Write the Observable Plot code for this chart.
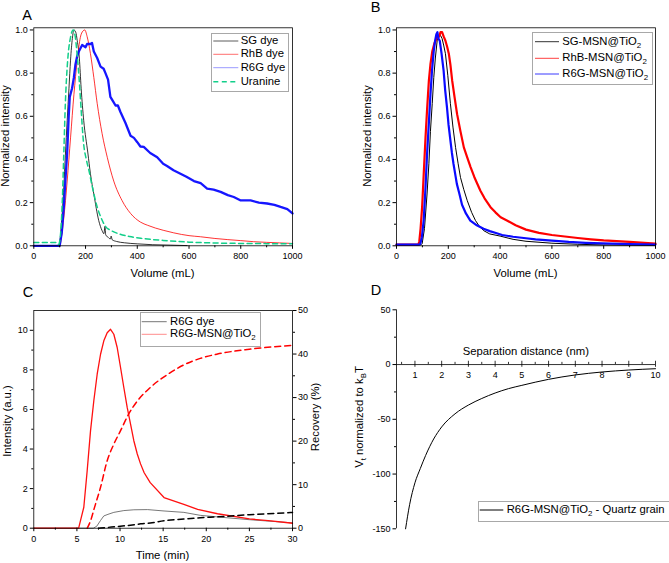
<!DOCTYPE html>
<html><head><meta charset="utf-8">
<script src="https://cdn.jsdelivr.net/npm/d3@7"></script>
<script src="https://cdn.jsdelivr.net/npm/@observablehq/plot@0.6"></script>
<style>
body{margin:0;background:#fff;}
#root{position:relative;width:669px;height:563px;overflow:hidden;font-family:"Liberation Sans",Arial,sans-serif;color:#000;background:#fff;}
.abs{position:absolute;white-space:nowrap;line-height:1;}
.panel{position:absolute;}
sub{font-size:0.7em;vertical-align:-0.3em;line-height:0;}
.box{position:absolute;border:1px solid #a8a8a8;background:#fff;}
</style></head>
<body><div id="root"></div>
<script>
// ---------- Panel A data (Volume mL vs normalized intensity) ----------
const aSGx = [0, 97, 108, 116, 122, 129, 136, 142, 149, 155, 162, 168, 176, 183, 193, 209, 219, 232, 251, 264, 271, 275, 278, 285, 296, 299, 303, 320, 350, 400, 460, 530, 593];
const aSGy = [0, 0, 0.12, 0.27, 0.42, 0.58, 0.73, 0.86, 0.96, 1.0, 0.99, 0.95, 0.87, 0.73, 0.58, 0.43, 0.333, 0.24, 0.117, 0.07, 0.056, 0.09, 0.05, 0.042, 0.032, 0.045, 0.028, 0.02, 0.014, 0.009, 0.005, 0.003, 0.001];
const aRhBx = [0, 100, 108, 116, 129, 142, 155, 168, 180, 190, 197, 206, 219, 232, 245, 264, 284, 309, 341, 374, 412, 440, 500, 541, 600, 644, 700, 800, 850, 900, 1000];
const aRhBy = [0, 0, 0.05, 0.13, 0.30, 0.50, 0.70, 0.86, 0.966, 0.995, 1.0, 0.97, 0.89, 0.78, 0.66, 0.52, 0.41, 0.30, 0.21, 0.15, 0.11, 0.095, 0.072, 0.06, 0.047, 0.042, 0.034, 0.024, 0.019, 0.016, 0.011];
const aR6Gx = [0, 100, 108, 116, 122, 129, 135, 139, 148, 155, 161, 168, 174, 187, 200, 206, 219, 225, 232, 245, 258, 270, 277, 287, 296, 306, 316, 325, 335, 354, 374, 387, 400, 412, 425, 450, 477, 500, 515, 540, 567, 590, 619, 645, 670, 695, 722, 750, 773, 800, 838, 870, 902, 930, 954, 980, 1000];
const aR6Gy = [0, 0, 0.06, 0.18, 0.3, 0.43, 0.6, 0.69, 0.73, 0.78, 0.84, 0.88, 0.90, 0.93, 0.92, 0.935, 0.935, 0.94, 0.90, 0.87, 0.83, 0.82, 0.80, 0.77, 0.69, 0.67, 0.65, 0.65, 0.62, 0.57, 0.51, 0.50, 0.48, 0.46, 0.458, 0.43, 0.41, 0.38, 0.37, 0.35, 0.334, 0.32, 0.30, 0.29, 0.265, 0.26, 0.25, 0.235, 0.226, 0.21, 0.21, 0.20, 0.196, 0.19, 0.18, 0.17, 0.15];
const aUrax = [0, 88, 95, 100, 105, 110, 116, 122, 131, 142, 152, 160, 168, 176, 183, 192, 203, 213, 225, 245, 260, 277, 300, 330, 370, 420, 500, 600, 700, 800, 900, 1000];
const aUray = [0.015, 0.015, 0.005, 0.02, 0.08, 0.2, 0.43, 0.66, 0.86, 0.966, 1.0, 0.97, 0.88, 0.76, 0.63, 0.48, 0.4, 0.35, 0.28, 0.18, 0.13, 0.09, 0.07, 0.055, 0.043, 0.034, 0.025, 0.017, 0.013, 0.011, 0.01, 0.009];

// ---------- Panel B data ----------
const bSGx = [0, 95, 99, 108, 118, 125, 131, 138, 144, 150, 157, 163, 170, 176, 182, 189, 198, 208, 218, 228, 238, 247, 260, 273, 290, 305, 320, 337, 360, 400, 450, 500, 600, 700, 800, 900, 1000];
const bSGy = [0.005, 0.005, 0.01, 0.08, 0.24, 0.38, 0.53, 0.66, 0.78, 0.87, 0.95, 0.97, 0.975, 0.96, 0.93, 0.89, 0.79, 0.66, 0.55, 0.456, 0.38, 0.317, 0.26, 0.21, 0.155, 0.117, 0.09, 0.07, 0.055, 0.045, 0.03, 0.021, 0.012, 0.007, 0.004, 0.003, 0.002];
const bRhBx = [0, 84, 88, 93, 99, 105, 112, 118, 125, 131, 138, 147, 157, 165, 170, 176, 182, 189, 196, 202, 208, 215, 224, 234, 247, 260, 273, 286, 300, 311, 324, 340, 363, 382, 402, 430, 460, 500, 550, 600, 650, 700, 750, 800, 900, 1000];
const bRhBy = [0.005, 0.005, 0.02, 0.08, 0.18, 0.33, 0.50, 0.63, 0.765, 0.84, 0.90, 0.94, 0.965, 0.97, 0.99, 0.99, 0.97, 0.95, 0.92, 0.89, 0.84, 0.765, 0.69, 0.61, 0.53, 0.456, 0.41, 0.365, 0.32, 0.29, 0.255, 0.22, 0.179, 0.155, 0.132, 0.115, 0.095, 0.075, 0.06, 0.05, 0.043, 0.036, 0.03, 0.025, 0.018, 0.01];
const bR6Gx = [0, 88, 92, 98, 105, 112, 118, 125, 131, 137, 143.5, 149, 154, 158, 162, 167, 174, 182, 188, 195, 201, 208, 214, 220, 227, 233, 243, 253, 268, 285, 310, 336, 360, 387, 408, 450, 500, 537, 600, 665, 730, 794, 900, 1000];
const bR6Gy = [0.005, 0.005, 0.01, 0.04, 0.118, 0.27, 0.425, 0.57, 0.70, 0.81, 0.90, 0.95, 0.98, 0.99, 0.96, 0.95, 0.89, 0.81, 0.72, 0.64, 0.56, 0.49, 0.43, 0.38, 0.33, 0.287, 0.24, 0.19, 0.15, 0.117, 0.095, 0.079, 0.068, 0.058, 0.05, 0.042, 0.035, 0.03, 0.024, 0.018, 0.014, 0.011, 0.008, 0.006];

// ---------- Panel C data (time min) ----------
const cMSNt = [0, 5.2, 5.8, 6.19, 6.58, 6.96, 7.35, 7.74, 8.12, 8.51, 8.9, 9.28, 9.67, 10.06, 10.44, 10.83, 11.22, 11.6, 12.0, 12.38, 12.8, 13.5, 15.1, 17.4, 19.0, 21.3, 25.0, 27.5, 30];
const cMSNi = [0, 0, 1.06, 2.9, 4.93, 6.44, 7.78, 8.79, 9.47, 9.88, 10.05, 9.8, 9.13, 8.12, 7.11, 6.1, 5.26, 4.42, 3.75, 3.25, 2.8, 2.3, 1.55, 1.2, 0.95, 0.73, 0.47, 0.37, 0.25];
const cDyet = [0, 6.9, 7.3, 7.74, 8.12, 8.6, 9.28, 10.44, 11.6, 13.2, 15.1, 17.4, 19.3, 21.3, 25, 30];
const cDyei = [0, 0, 0.1, 0.39, 0.62, 0.7, 0.8, 0.89, 0.93, 0.94, 0.87, 0.8, 0.65, 0.57, 0.43, 0.27];
const cMSNrt = [6.2, 6.6, 7.0, 7.74, 8.51, 9.28, 10.06, 11.0, 12.0, 13.5, 15.5, 17.4, 19.3, 21.3, 25, 30];
const cMSNr = [0, 1.8, 4.5, 9.4, 15.5, 19.3, 22.4, 26.2, 29.2, 32.3, 35.3, 37.5, 39, 40, 41.1, 42];
const cDyert = [7.5, 9.0, 11.2, 12.4, 13.5, 15.1, 17.4, 19.3, 21.3, 25, 30];
const cDyer = [0, 0.25, 0.7, 1.0, 1.2, 1.7, 2.1, 2.4, 2.6, 3.1, 3.6];

// ---------- Panel D data (separation nm vs Vt/kBT) ----------
const dX = [0.65, 0.8, 1.0, 1.2, 1.4, 1.7, 2.0, 2.5, 3.0, 3.5, 4.0, 4.5, 5, 6, 7, 8, 9, 10];
const dY = [-150, -128, -108, -95, -83, -68, -57, -45, -37, -31, -26, -22, -19, -13.5, -9.5, -6.8, -5.0, -3.8];

// ---------- tick values ----------
const volTicks = [0, 200, 400, 600, 800, 1000];
const volMinor = [100, 300, 500, 700, 900];
const normTicks = [0, 0.2, 0.4, 0.6, 0.8, 1.0];
const normMinor = [0.1, 0.3, 0.5, 0.7, 0.9];
const timeTicks = [0, 5, 10, 15, 20, 25, 30];
const timeMinor = [2.5, 7.5, 12.5, 17.5, 22.5, 27.5];
const intTicks = [0, 2, 4, 6, 8, 10];
const intMinor = [1, 3, 5, 7, 9];
const recTicks = [0, 10, 20, 30, 40, 50];
const recMinor = [5, 15, 25, 35, 45];
const sepTicks = [1, 2, 3, 4, 5, 6, 7, 8, 9, 10];
const sepMinor = [0.5, 1.5, 2.5, 3.5, 4.5, 5.5, 6.5, 7.5, 8.5, 9.5];
const vTicks = [-150, -100, -50, 0, 50];
const vMinor = [-125, -75, -25, 25];

const pts = (xs, ys, f = (v) => v) => xs.map((x, i) => ({x, y: f(ys[i])}));
const root = document.getElementById("root");
const FONT = '"Liberation Sans", Arial, sans-serif';
const style = {fontFamily: FONT, fontSize: "9px", color: "#000", background: "transparent", overflow: "visible"};
const S = (d) => String(d);

function place(el, left, top) {
  el.classList.add("panel");
  el.style.left = left + "px"; el.style.top = top + "px";
  root.appendChild(el);
}
function txt(html, x, y, size, opts = {}) {
  const d = document.createElement("div");
  d.className = "abs";
  d.innerHTML = html;
  d.style.fontSize = size + "px";
  d.style.left = x + "px"; d.style.top = y + "px";
  const tx = opts.anchor === "start" ? "0" : "-50%";
  d.style.transform = `translate(${tx},-50%)`;
  root.appendChild(d);
  return d;
}
function rotTxt(html, cx, cy, size) {
  const d = document.createElement("div");
  d.className = "abs";
  d.innerHTML = html;
  d.style.fontSize = size + "px";
  d.style.left = cx + "px"; d.style.top = cy + "px";
  d.style.transform = "translate(-50%,-50%) rotate(-90deg)";
  root.appendChild(d);
}
function box(x0, y0, x1, y1) {
  const b = document.createElement("div");
  b.className = "box";
  b.style.left = x0 + "px"; b.style.top = y0 + "px";
  b.style.width = (x1 - x0) + "px"; b.style.height = (y1 - y0) + "px";
  root.appendChild(b);
}

const ax = {stroke: "#000", strokeWidth: 0.8};

// ---------- Panel A ----------
const pA = Plot.plot({
  width: 335, height: 290, marginLeft: 33.3, marginRight: 43, marginTop: 27.3, marginBottom: 44.7,
  x: {domain: [0, 1000]}, y: {domain: [0, 1.01]}, style,
  marks: [
    Plot.line(pts(aSGx, aSGy), {x: "x", y: "y", stroke: "#000", strokeWidth: 0.8, curve: "monotone-x"}),
    Plot.line(pts(aRhBx, aRhBy), {x: "x", y: "y", stroke: "#ff0000", strokeWidth: 0.8, curve: "monotone-x"}),
    Plot.line(pts(aR6Gx, aR6Gy), {x: "x", y: "y", stroke: "#0a0aff", strokeWidth: 2.3, strokeOpacity: 0.95}),
    Plot.line(pts(aUrax, aUray), {x: "x", y: "y", stroke: "#12cf8a", strokeWidth: 1.5, strokeDasharray: "5,3.5", curve: "monotone-x"}),
    Plot.frame(ax),
    Plot.axisX({ticks: volTicks, tickSize: 3.5, tickPadding: 3.5, label: null, tickFormat: S}),
    Plot.axisX({ticks: volMinor, tickSize: 2, label: null, tickFormat: () => ""}),
    Plot.axisY({ticks: normTicks, tickSize: 3.5, tickPadding: 2.5, label: null, tickFormat: d3.format(".1f")}),
    Plot.axisY({ticks: normMinor, tickSize: 2, label: null, tickFormat: () => ""})
  ]
});
place(pA, 0, 0);

// ---------- Panel B ----------
const pB = Plot.plot({
  width: 334, height: 290, marginLeft: 61, marginRight: 14, marginTop: 27.3, marginBottom: 44.7,
  x: {domain: [0, 1000]}, y: {domain: [0, 1.01]}, style,
  marks: [
    Plot.line(pts(bSGx, bSGy), {x: "x", y: "y", stroke: "#000", strokeWidth: 1}),
    Plot.line(pts(bRhBx, bRhBy), {x: "x", y: "y", stroke: "#ff0000", strokeWidth: 2.2}),
    Plot.line(pts(bR6Gx, bR6Gy), {x: "x", y: "y", stroke: "#0a0aff", strokeWidth: 2.2}),
    Plot.frame(ax),
    Plot.axisX({ticks: volTicks, tickSize: 3.5, tickPadding: 3.5, label: null, tickFormat: S}),
    Plot.axisX({ticks: volMinor, tickSize: 2, label: null, tickFormat: () => ""}),
    Plot.axisY({ticks: normTicks, tickSize: 3.5, tickPadding: 2.5, label: null, tickFormat: d3.format(".1f")}),
    Plot.axisY({ticks: normMinor, tickSize: 2, label: null, tickFormat: () => ""})
  ]
});
place(pB, 335, 0);

// ---------- Panel C (right axis: recovery %, 50 % = 11 a.u.) ----------
const rec = (r) => r * 11 / 50;
const pC = Plot.plot({
  width: 335, height: 283, marginLeft: 33.3, marginRight: 43, marginTop: 30, marginBottom: 35.3,
  x: {domain: [0, 30]}, y: {domain: [0, 11]}, style,
  marks: [
    Plot.line(pts(cDyet, cDyei), {x: "x", y: "y", stroke: "#555", strokeWidth: 0.8}),
    Plot.line(pts(cMSNt, cMSNi), {x: "x", y: "y", stroke: "#ff1010", strokeWidth: 1.3}),
    Plot.line(pts(cMSNrt, cMSNr, rec), {x: "x", y: "y", stroke: "#ff0000", strokeWidth: 1.5, strokeDasharray: "6,4", curve: "monotone-x"}),
    Plot.line(pts(cDyert, cDyer, rec), {x: "x", y: "y", stroke: "#000", strokeWidth: 1.5, strokeDasharray: "6,4", curve: "monotone-x"}),
    Plot.frame(ax),
    Plot.axisX({ticks: timeTicks, tickSize: 3.5, tickPadding: 3.5, label: null, tickFormat: S}),
    Plot.axisX({ticks: timeMinor, tickSize: 2, label: null, tickFormat: () => ""}),
    Plot.axisY({ticks: intTicks, tickSize: 3.5, tickPadding: 2.5, label: null, tickFormat: S}),
    Plot.axisY({ticks: intMinor, tickSize: 2, label: null, tickFormat: () => ""}),
    Plot.axisY({anchor: "right", ticks: recTicks.map(rec), tickSize: 3.5, tickPadding: 2, label: null, tickFormat: (d) => String(Math.round(d * 50 / 11))}),
    Plot.axisY({anchor: "right", ticks: recMinor.map(rec), tickSize: 2, label: null, tickFormat: () => ""})
  ]
});
place(pC, 0, 280);

// ---------- Panel D ----------
const dMin = 0.31;
const pD = Plot.plot({
  width: 334, height: 283, marginLeft: 61, marginRight: 14, marginTop: 29.3, marginBottom: 34.7,
  x: {domain: [dMin, 10], axis: null}, y: {domain: [-150, 50]}, style,
  marks: [
    Plot.ruleX([dMin], {y1: -150, y2: 50, ...ax}),
    Plot.ruleY([0], {x1: dMin, x2: 10, ...ax}),
    Plot.ruleX(sepTicks, {y1: -2.5, y2: 3, ...ax}),
    Plot.ruleX(sepMinor, {y1: 0, y2: 2, ...ax}),
    Plot.text(sepTicks, {x: (d) => d, y: -10, text: S, fontSize: 9, fill: "#000"}),
    Plot.axisY({ticks: vTicks, tickSize: 3.5, tickPadding: 2.5, label: null, tickFormat: S}),
    Plot.axisY({ticks: vMinor, tickSize: 2, label: null, tickFormat: () => ""}),
    Plot.line(pts(dX, dY), {x: "x", y: "y", stroke: "#000", strokeWidth: 1, curve: "monotone-x"})
  ]
});
place(pD, 335, 280);

// ---------- panel letters ----------
txt("A", 27, 15, 14.5);
txt("B", 375.5, 7, 14.5);
txt("C", 28, 292, 14.5);
txt("D", 376, 290, 14.5);

// ---------- axis titles ----------
txt("Volume (mL)", 162.5, 274, 11.3);
rotTxt("Normalized intensity", 6, 136, 11.3);
txt("Volume (mL)", 525.5, 274, 11.3);
rotTxt("Normalized intensity", 368, 136, 11.3);
txt("Time (min)", 162.5, 556, 11.3);
rotTxt("Intensity (a.u.)", 7.5, 421, 11.3);
rotTxt("Recovery (%)", 316, 417, 11.3);
txt("Separation distance (nm)", 525.8, 352.3, 11.3);
rotTxt("V<sub>t</sub> normalized to k<sub>B</sub>T", 360, 417, 11.3);

// ---------- legends ----------
const lg = document.createElementNS("http://www.w3.org/2000/svg", "svg");
lg.setAttribute("width", 669); lg.setAttribute("height", 563);
lg.style.position = "absolute"; lg.style.left = "0"; lg.style.top = "0"; lg.style.pointerEvents = "none";
function lgLine(x0, x1, y, color, w, dash) {
  const l = document.createElementNS("http://www.w3.org/2000/svg", "line");
  l.setAttribute("x1", x0); l.setAttribute("x2", x1); l.setAttribute("y1", y); l.setAttribute("y2", y);
  l.setAttribute("stroke", color); l.setAttribute("stroke-width", w);
  if (dash) l.setAttribute("stroke-dasharray", dash);
  lg.appendChild(l);
}
// A
box(211, 33.3, 287.3, 90);
[["SG dye", 41, "#333", 0.8, null], ["RhB dye", 54.3, "#ff4a4a", 0.8, null], ["R6G dye", 67.7, "#9a9aff", 1, null], ["Uranine", 81.7, "#12cf8a", 1.5, "5,3.5"]]
  .forEach(([t, y, c, w, d]) => { lgLine(213.3, 238.3, y, c, w, d); txt(t, 240.7, y, 11.3, {anchor: "start"}); });
// B
box(532.3, 32.3, 651, 83.3);
[["SG-MSN@TiO<sub>2</sub>", 41.7, "#333"], ["RhB-MSN@TiO<sub>2</sub>", 58.3, "#ff4040"], ["R6G-MSN@TiO<sub>2</sub>", 74, "#3a3aff"]]
  .forEach(([t, y, c]) => { lgLine(535, 559, y, c, 1); txt(t, 562.3, y, 11.3, {anchor: "start"}); });
// C
box(140, 312.3, 259.3, 345);
[["R6G dye", 321.7, "#777"], ["R6G-MSN@TiO<sub>2</sub>", 334.3, "#ff8c8c"]]
  .forEach(([t, y, c]) => { lgLine(141.7, 166.7, y, c, 1); txt(t, 170, y, 11.3, {anchor: "start"}); });
// D
box(478, 501, 668, 519.5);
lgLine(479.7, 503.3, 510, "#000", 1);
txt("R6G-MSN@TiO<sub>2</sub> - Quartz grain", 506.7, 510, 11.3, {anchor: "start"});
root.appendChild(lg);
</script>
</body></html>
